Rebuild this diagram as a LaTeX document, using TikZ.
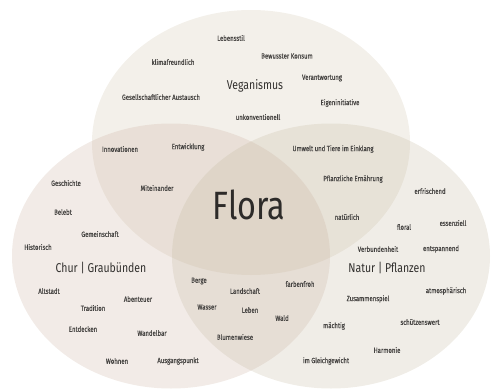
\documentclass[tikz,border=0pt]{standalone}
\usepackage{fontspec}
\newfontfamily\wordfont[FakeStretch=0.82]{Fira Sans}
\newfontfamily\smallfont[FakeStretch=0.80, FakeBold=0.6]{Fira Sans}
\definecolor{ctop}{RGB}{207,195,171}
\definecolor{cleft}{RGB}{203,175,159}
\definecolor{cright}{RGB}{195,183,159}
\definecolor{wordgray}{RGB}{70,68,66}
\definecolor{titlegray}{RGB}{50,48,46}
\tikzset{
  blob/.style={fill opacity=0.25, draw=none},
  word/.style={font={\smallfont\fontsize{7.5}{8}\selectfont}, text=wordgray, inner sep=0pt},
  title/.style={font={\wordfont\fontsize{12.8}{14}\selectfont}, text=titlegray, inner sep=0pt},
  bigtitle/.style={font={\wordfont\fontsize{39.5}{41}\selectfont}, text=titlegray!90!black, inner sep=0pt}
}
\begin{document}
\begin{tikzpicture}[x=1pt,y=-1pt]
\useasboundingbox (0,0) rectangle (493,391);
% circles
\fill[blob, ctop] (251,142.5) ellipse [x radius=159, y radius=132.5];
\fill[blob, cleft] (171,256) ellipse [x radius=159, y radius=132.5];
\fill[blob, cright] (331,256) ellipse [x radius=159, y radius=132.5];
% titles
\node[title] (veg) at (255,86) {Veganismus};
\node[title] (chur) at (101,268) {Chur | Graubünden};
\node[title] (natur) at (387,268) {Natur | Pflanzen};
\node[bigtitle] (flora) at (249,205) {Flora};
% top
\node[word] (w1) at (231,38) {Lebensstil};
\node[word] (w2) at (287,56) {Bewusster Konsum};
\node[word] (w3) at (173,62) {klimafreundlich};
\node[word] (w4) at (322,78) {Verantwortung};
\node[word] (w5) at (161,97) {Gesellschaftlicher Austausch};
\node[word] (w6) at (340,103) {Eigeninitiative};
\node[word] (w7) at (258,117) {unkonventionell};
% top-left
\node[word] (w8) at (120,149) {Innovationen};
\node[word] (w9) at (188,147) {Entwicklung};
\node[word] (w10) at (157,188) {Miteinander};
% top-right
\node[word] (w11) at (333,149) {Umwelt und Tiere im Einklang};
\node[word] (w12) at (353,179) {Pflanzliche Ernährung};
\node[word] (w13) at (347,217) {natürlich};
% left
\node[word] (w14) at (66,183) {Geschichte};
\node[word] (w15) at (63,212) {Belebt};
\node[word] (w16) at (100,234) {Gemeinschaft};
\node[word] (w17) at (38,247) {Historisch};
\node[word] (w18) at (49,291) {Altstadt};
\node[word] (w19) at (138,299) {Abenteuer};
\node[word] (w20) at (93,308) {Tradition};
\node[word] (w21) at (83,329) {Entdecken};
\node[word] (w22) at (152,333) {Wandelbar};
\node[word] (w23) at (117,361) {Wohnen};
\node[word] (w24) at (178,361) {Ausgangspunkt};
% left-right
\node[word] (w25) at (199,281) {Berge};
\node[word] (w26) at (245,291) {Landschaft};
\node[word] (w27) at (300,284) {farbenfroh};
\node[word] (w28) at (207,307) {Wasser};
\node[word] (w29) at (250,310) {Leben};
\node[word] (w30) at (282,318) {Wald};
\node[word] (w31) at (235,337) {Blumenwiese};
% right
\node[word] (w32) at (430,191) {erfrischend};
\node[word] (w33) at (404,227) {floral};
\node[word] (w34) at (453,223) {essenziell};
\node[word] (w35) at (378,249) {Verbundenheit};
\node[word] (w36) at (441,249) {entspannend};
\node[word] (w37) at (446,291) {atmosphärisch};
\node[word] (w38) at (368,299) {Zusammenspiel};
\node[word] (w39) at (420,322) {schützenswert};
\node[word] (w40) at (334,326) {mächtig};
\node[word] (w41) at (387,350) {Harmonie};
\node[word] (w42) at (326,361) {im Gleichgewicht};
\end{tikzpicture}
\end{document}
